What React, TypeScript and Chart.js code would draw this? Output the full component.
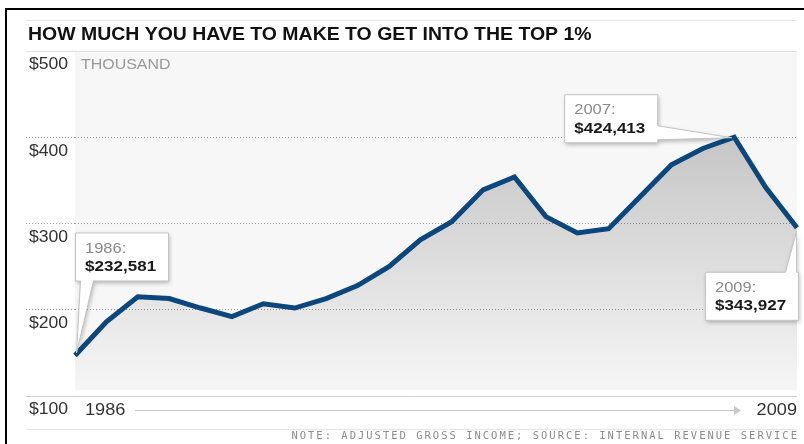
import React, { useEffect, useRef } from "react";
import { Chart, registerables } from "chart.js";

Chart.register(...registerables);

const years = [
  "1986", "1987", "1988", "1989", "1990", "1991", "1992", "1993",
  "1994", "1995", "1996", "1997", "1998", "1999", "2000", "2001",
  "2002", "2003", "2004", "2005", "2006", "2007", "2008", "2009",
];
const thresholdThousands = [
  147, 186, 215, 213, 202, 192, 207, 202,
  213, 228, 250, 281, 302, 339, 354, 308,
  289, 294, 331, 368, 387, 400, 342, 295,
];
const yTicks = [100, 200, 300, 400, 500];
const gridValues = [200, 300, 400];
const calloutYears = ["1986", "2007", "2009"];
const calloutValues = ["$232,581", "$424,413", "$343,927"];
const titleText = "HOW MUCH YOU HAVE TO MAKE TO GET INTO THE TOP 1%";
const unitText = "THOUSAND";
const noteText = "NOTE: ADJUSTED GROSS INCOME; SOURCE: INTERNAL REVENUE SERVICE";

const SX = 1.1;
const SANS = '"Liberation Sans", Arial, Helvetica, sans-serif';

function txt(
  ctx: CanvasRenderingContext2D,
  s: string,
  x: number,
  y: number,
  font: string,
  color: string,
  align: CanvasTextAlign = "left"
) {
  ctx.save();
  ctx.font = font;
  ctx.fillStyle = color;
  ctx.textBaseline = "middle";
  ctx.textAlign = align;
  ctx.translate(x, y);
  ctx.scale(SX, 1);
  ctx.fillText(s, 0, 0);
  ctx.restore();
}

function hline(ctx: CanvasRenderingContext2D, x1: number, x2: number, y: number, color: string) {
  ctx.save();
  ctx.strokeStyle = color;
  ctx.lineWidth = 1;
  ctx.beginPath();
  ctx.moveTo(x1, y + 0.5);
  ctx.lineTo(x2, y + 0.5);
  ctx.stroke();
  ctx.restore();
}

function drawCallout(
  ctx: CanvasRenderingContext2D,
  kind: number,
  px: number,
  py: number,
  year: string,
  value: string
) {
  const w = 93;
  const h = 48;
  let bx = 0;
  let by = 0;
  let poly: [number, number][] = [];
  if (kind === 0) {
    bx = px;
    by = py - 123;
    poly = [
      [bx, by], [bx + w, by], [bx + w, by + h], [bx + 18, by + h],
      [px + 1, py - 3], [bx + 5, by + h], [bx, by + h],
    ];
  } else if (kind === 1) {
    bx = px - 170;
    by = py - 43;
    poly = [
      [bx, by], [bx + w, by], [bx + w, by + 31], [px - 3, py],
      [bx + w, by + 45], [bx + w, by + h], [bx, by + h],
    ];
  } else {
    bx = px - 92;
    by = py + 44;
    poly = [
      [bx, by], [bx + 80, by], [px - 1, py + 3], [bx + 91, by],
      [bx + w, by], [bx + w, by + h], [bx, by + h],
    ];
  }
  ctx.save();
  ctx.beginPath();
  poly.forEach(([x, y], i) => (i === 0 ? ctx.moveTo(x + 0.5, y + 0.5) : ctx.lineTo(x + 0.5, y + 0.5)));
  ctx.closePath();
  ctx.shadowColor = "rgba(0,0,0,0.28)";
  ctx.shadowBlur = 4;
  ctx.shadowOffsetX = 1;
  ctx.shadowOffsetY = 2;
  ctx.fillStyle = "#ffffff";
  ctx.fill();
  ctx.shadowColor = "transparent";
  ctx.strokeStyle = "#c4c4c4";
  ctx.lineWidth = 1;
  ctx.stroke();
  ctx.restore();
  txt(ctx, year + ":", bx + 10, by + 16, `15px ${SANS}`, "#8a8a8a");
  txt(ctx, value, bx + 10, by + 34, `bold 15.5px ${SANS}`, "#1a1a1a");
}

const decorPlugin = {
  id: "decor",
  beforeDraw(chart: any) {
    const ctx: CanvasRenderingContext2D = chart.ctx;
    const area = chart.chartArea;
    ctx.save();
    ctx.fillStyle = "#ffffff";
    ctx.fillRect(0, 0, chart.width, chart.height);
    ctx.fillStyle = "#f7f7f7";
    ctx.fillRect(area.left, area.top, area.right - area.left, area.bottom - 6 - area.top);
    ctx.fillStyle = "#000000";
    ctx.fillRect(5, 8, 2, chart.height);
    ctx.fillRect(5, 8, chart.width, 2);
    ctx.restore();
    hline(ctx, 26, area.right, 20, "#e6e6e6");
    hline(ctx, 26, area.right, area.top, "#e2e2e2");
    hline(ctx, 26, area.right, area.bottom, "#cfcfcf");
    hline(ctx, 26, area.right, area.bottom + 33, "#e6e6e6");
    txt(ctx, titleText, 28, 35, `bold 17.7px ${SANS}`, "#111111");
  },
  afterDraw(chart: any) {
    const ctx: CanvasRenderingContext2D = chart.ctx;
    const area = chart.chartArea;
    const ys = chart.scales.y;
    const xs = chart.scales.x;
    yTicks.forEach((v) => {
      txt(ctx, "$" + v, 29, ys.getPixelForValue(v) + 14, `16px ${SANS}`, "#333333");
    });
    txt(ctx, unitText, 81, ys.getPixelForValue(500) + 14, `14.5px ${SANS}`, "#999999");
    const x0 = xs.getPixelForValue(0);
    const x1 = xs.getPixelForValue(years.length - 1);
    const ly = area.bottom + 14;
    txt(ctx, years[0], x0 + 10, ly, `16.5px ${SANS}`, "#333333");
    txt(ctx, years[years.length - 1], x1, ly, `16.5px ${SANS}`, "#333333", "right");
    ctx.save();
    ctx.strokeStyle = "#c8c8c8";
    ctx.lineWidth = 1;
    ctx.beginPath();
    ctx.moveTo(x0 + 60, ly + 0.5);
    ctx.lineTo(x1 - 62, ly + 0.5);
    ctx.stroke();
    ctx.fillStyle = "#c8c8c8";
    ctx.beginPath();
    ctx.moveTo(x1 - 63, ly - 4);
    ctx.lineTo(x1 - 56, ly + 0.5);
    ctx.lineTo(x1 - 63, ly + 5);
    ctx.closePath();
    ctx.fill();
    ctx.restore();
    ctx.save();
    ctx.font = `10.5px "DejaVu Sans Mono", monospace`;
    (ctx as any).letterSpacing = "2px";
    ctx.fillStyle = "#8c8c8c";
    ctx.textAlign = "right";
    ctx.textBaseline = "middle";
    ctx.fillText(noteText, area.right + 2, area.bottom + 40);
    ctx.restore();
    calloutYears.forEach((yr, i) => {
      const idx = years.indexOf(yr);
      const px = xs.getPixelForValue(idx);
      const py = ys.getPixelForValue(thresholdThousands[idx]);
      drawCallout(ctx, i, px, py, yr, calloutValues[i]);
    });
  },
};

export default function App() {
  const ref = useRef<HTMLCanvasElement | null>(null);
  useEffect(() => {
    if (!ref.current) return;
    const chart = new Chart(ref.current, {
      type: "line",
      data: {
        labels: years,
        datasets: [
          {
            data: thresholdThousands,
            borderColor: "#0b477d",
            borderWidth: 5,
            pointRadius: 0,
            tension: 0,
            fill: "start",
            backgroundColor: (c: any) => {
              const a = c.chart.chartArea;
              if (!a) return "rgba(0,0,0,0.1)";
              const g = c.chart.ctx.createLinearGradient(0, a.top, 0, a.bottom);
              g.addColorStop(0, "rgba(0,0,0,0.25)");
              g.addColorStop(0.3, "rgba(0,0,0,0.19)");
              g.addColorStop(1, "rgba(0,0,0,0.0)");
              return g;
            },
          },
        ],
      },
      options: {
        responsive: false,
        animation: false,
        layout: { padding: { left: 29, right: 7, top: 51, bottom: 48 } },
        plugins: {
          legend: { display: false },
          tooltip: { enabled: false },
          title: { display: false },
        },
        scales: {
          x: { display: false },
          y: {
            min: 100,
            max: 500,
            afterFit: (s: any) => {
              s.width = 46;
            },
            ticks: { display: false, stepSize: 100 },
            border: { display: false, dash: [1, 2] },
            grid: {
              color: (c: any) => (gridValues.includes(c.tick.value) ? "#9c9c9c" : "rgba(0,0,0,0)"),
              tickColor: (c: any) => (gridValues.includes(c.tick.value) ? "#9c9c9c" : "rgba(0,0,0,0)"),
              drawTicks: true,
              tickLength: 49,
              tickBorderDash: [1, 2],
              lineWidth: 1,
            },
          },
        },
      },
      plugins: [decorPlugin],
    });
    return () => chart.destroy();
  }, []);
  return (
    <div
      style={{
        position: "absolute",
        left: 0,
        top: 0,
        width: 804,
        height: 444,
        overflow: "hidden",
        background: "#fff",
      }}
    >
      <canvas ref={ref} width={804} height={444} style={{ display: "block" }} />
    </div>
  );
}
